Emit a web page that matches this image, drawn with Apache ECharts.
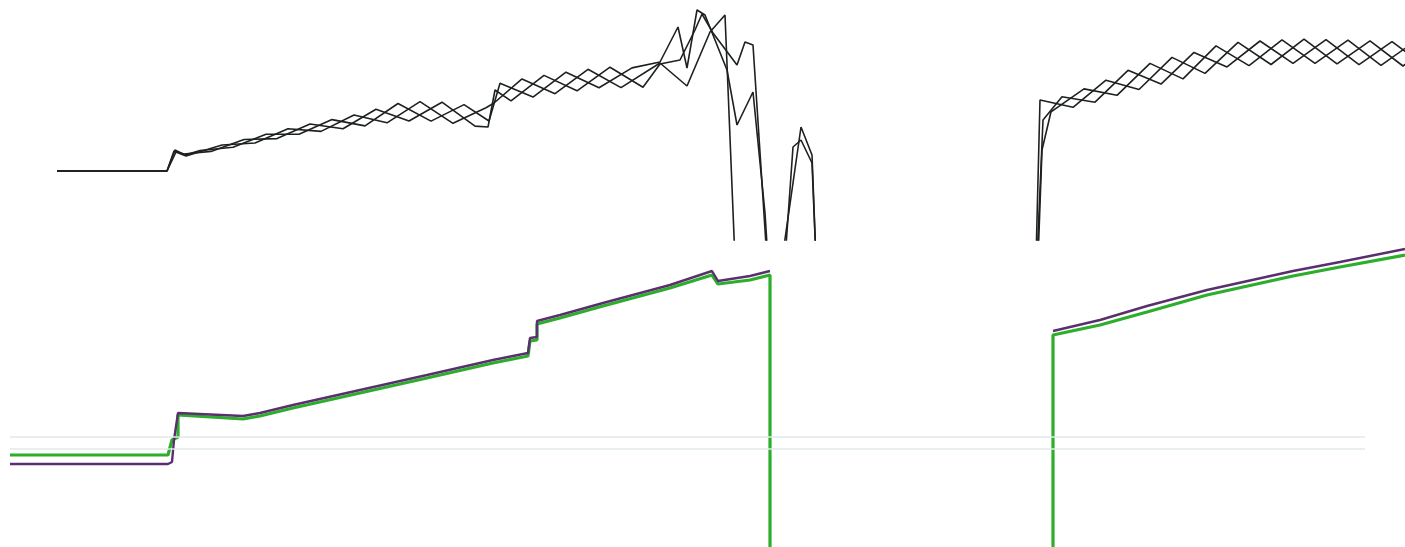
<!DOCTYPE html>
<html>
<head>
<meta charset="utf-8">
<script src="https://cdn.jsdelivr.net/npm/echarts@6/dist/echarts.min.js"></script>
<style>
  html, body { margin: 0; padding: 0; background: #fff; }
  #main { width: 1405px; height: 547px; }
</style>
</head>
<body>
<div id="main"></div>
<script>
// top panel: three braided traces, [x, value]
var traceA = [
    [5.7, 6.9], [16.7, 6.9], [17.5, 9.0], [18.5, 8.5],
    [20.0, 8.95], [23.3, 9.28], [26.6, 10.58], [29.9, 10.58], [33.2, 12.04], [36.5, 11.41],
    [39.8, 13.65], [43.1, 11.89], [46.4, 13.54], [48.9, 11.9],
    [50.0, 15.67], [53.3, 14.29], [56.6, 16.78], [59.9, 15.22], [63.2, 17.21],
    [66.0, 17.8], [67.8, 21.3], [68.7, 17.2], [69.7, 23.0], [70.5, 22.5], [72.7, 17.0],
    [73.7, 11.5], [75.3, 14.8], [76.5, 2.7], [76.8, -2.0],
    [78.2, -2.0], [80.1, 11.3], [81.2, 8.5], [81.6, -2.0],
    [103.6, -2.0], [104.0, 14.0], [107.3, 13.27], [110.6, 15.98], [113.9, 15.05], [117.2, 18.26],
    [120.5, 16.66], [123.8, 19.77], [127.1, 17.55], [130.4, 20.09], [133.7, 17.61],
    [137.0, 19.91], [140.3, 17.4], [143.6, 19.8]
];
var traceB = [
    [5.7, 6.9], [16.7, 6.9], [17.6, 8.8], [18.6, 8.4],
    [22.2, 9.5], [25.5, 9.7], [28.8, 11.12], [32.1, 10.86], [35.4, 12.5], [38.7, 11.72],
    [42.0, 13.83], [45.3, 11.67], [48.6, 13.23], [49.4, 13.7],
    [52.2, 16.11], [55.5, 14.63], [58.8, 17.07], [62.1, 15.24],
    [66.0, 17.7], [68.7, 15.4], [71.0, 20.8], [72.5, 22.5], [73.5, -2.0],
    [78.5, -2.0], [79.3, 9.3], [80.1, 10.0], [81.2, 7.7], [81.6, -2.0],
    [103.7, -2.0], [104.3, 12.0], [106.2, 14.32], [109.5, 13.78], [112.8, 16.97], [116.1, 15.59],
    [119.4, 18.76], [122.7, 17.31], [126.0, 19.9], [129.3, 17.66], [132.6, 20.03],
    [135.9, 17.54], [139.2, 19.84], [142.5, 17.4]
];
var traceC = [
    [5.7, 6.9], [16.7, 6.9], [17.4, 8.9], [18.4, 8.6],
    [21.1, 8.86], [24.4, 10.05], [27.7, 10.14], [31.0, 11.6], [34.3, 11.12], [37.6, 13.08],
    [40.9, 11.9], [44.2, 13.78], [47.5, 11.39], [48.8, 11.3],
    [49.5, 15.0], [51.1, 13.91], [54.4, 16.46], [57.7, 14.92], [61.0, 17.28], [64.3, 15.27],
    [66.0, 17.6], [68.0, 18.0], [69.5, 21.0], [70.2, 22.6], [71.3, 20.7], [73.7, 17.5],
    [74.5, 19.8], [75.3, 19.5], [76.7, -2.0],
    [103.8, -2.0], [104.2, 9.0], [105.1, 12.82], [108.4, 15.11], [111.7, 14.47], [115.0, 17.66],
    [118.3, 16.11], [121.6, 19.41], [124.9, 17.44], [128.2, 20.01], [131.5, 17.66],
    [134.8, 19.98], [138.1, 17.47], [141.4, 19.8]
];

// bottom panel: green and purple cumulative traces
var greenLine = [
    [1.0, 9.2], [16.8, 9.2], [17.2, 10.7], [17.8, 11.0], [17.8, 13.2], [24.3, 12.8],
    [26.0, 13.1], [29.3, 13.9], [36.0, 15.4], [42.7, 16.9], [49.3, 18.4], [52.8, 19.1], [53.0, 20.6],
    [53.7, 20.7], [53.7, 22.3], [56.0, 22.9], [60.3, 24.1], [67.0, 25.9], [71.2, 27.2],
    [71.8, 26.3], [75.0, 26.7], [77.0, 27.2], [77.0, -1.3],
    [105.3, -1.3], [105.3, 21.2], [110.0, 22.2], [114.7, 23.5], [120.7, 25.2],
    [129.3, 27.1], [134.0, 28.0], [140.5, 29.2]
];
var purpleLine = [
    [1.0, 8.3], [16.8, 8.3], [17.2, 8.5], [17.4, 10.7], [17.8, 13.4], [24.3, 13.1],
    [26.0, 13.4], [29.3, 14.2], [36.0, 15.7], [42.7, 17.2], [49.3, 18.7], [52.8, 19.4], [53.0, 20.9],
    [53.7, 21.0], [53.7, 22.6], [56.0, 23.2], [60.3, 24.4], [67.0, 26.2], [71.2, 27.6],
    [71.8, 26.6], [75.0, 27.1], [77.0, 27.6], [77.0, '-'],
    [105.3, 21.6], [110.0, 22.7], [114.7, 24.1], [120.7, 25.7],
    [129.3, 27.6], [134.0, 28.5], [140.5, 29.8]
];
var faintLevels = [11.0, 9.8];

var chartDom = document.getElementById('main');
var myChart = echarts.init(chartDom);
var option;

function hiddenAxis(extra) {
    return Object.assign({
        type: 'value',
        show: false,
        splitLine: { show: false },
        axisLine: { show: false },
        axisTick: { show: false },
        axisLabel: { show: false }
    }, extra);
}

function trace(data) {
    return {
        type: 'line',
        xAxisIndex: 0,
        yAxisIndex: 0,
        data: data,
        symbol: 'none',
        clip: true,
        lineStyle: { color: '#1d211f', width: 1.6 }
    };
}

option = {
    backgroundColor: '#ffffff',
    animation: false,
    grid: [
        { left: 0, right: 0, top: 0, height: 240 },
        { left: 0, right: 0, top: 247, height: 300 }
    ],
    xAxis: [
        hiddenAxis({ gridIndex: 0, min: 0, max: 140.5 }),
        hiddenAxis({ gridIndex: 1, min: 0, max: 140.5 })
    ],
    yAxis: [
        hiddenAxis({ gridIndex: 0, min: 0, max: 24 }),
        hiddenAxis({ gridIndex: 1, min: 0, max: 30 })
    ],
    series: [
        trace(traceA),
        trace(traceB),
        trace(traceC),
        {
            type: 'line',
            xAxisIndex: 1,
            yAxisIndex: 1,
            data: greenLine,
            symbol: 'none',
            clip: true,
            lineStyle: { color: '#2cae2c', width: 3.2 },
            markLine: {
                silent: true,
                symbol: 'none',
                label: { show: false },
                lineStyle: { color: '#e2e8e8', width: 1.5, type: 'solid' },
                data: faintLevels.map(function (v) {
                    return [{ coord: [1.0, v] }, { coord: [136.5, v] }];
                })
            }
        },
        {
            type: 'line',
            xAxisIndex: 1,
            yAxisIndex: 1,
            data: purpleLine,
            symbol: 'none',
            clip: true,
            connectNulls: false,
            lineStyle: { color: '#5a2f6e', width: 2.4 }
        }
    ]
};

option && myChart.setOption(option);
</script>
</body>
</html>
